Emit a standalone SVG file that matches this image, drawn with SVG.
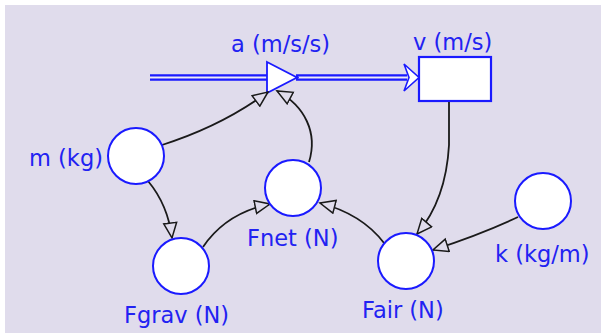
<svg xmlns="http://www.w3.org/2000/svg" width="601" height="336" viewBox="0 0 601 336">
  <style>
    .node circle { fill: #ffffff; stroke: #1a1aff; stroke-width: 2; }
    .lbl { font-family: "DejaVu Sans", Verdana, sans-serif; font-size: 22.5px; fill: #2222f2; }
    .conn path { fill: none; stroke: #1a1a1a; stroke-width: 1.8; }
    .pipe-outer { stroke: #1a1aff; stroke-width: 6.5; fill: none; }
    .pipe-inner { stroke: #eceaf6; stroke-width: 2; fill: none; }
  </style>
  <defs>
    <marker id="arr" markerUnits="userSpaceOnUse" markerWidth="18" markerHeight="16" refX="16" refY="7.5" orient="auto">
      <path d="M1,1 L16,7.5 L1,14 Z" fill="#e0dcec" stroke="#1a1a1a" stroke-width="1.5"/>
    </marker>
  </defs>
  <rect x="0" y="0" width="601" height="336" fill="#ffffff"/>
  <rect x="5" y="5" width="596" height="328" fill="#e0dcec"/>

  <g id="flow">
    <line class="pipe-outer" x1="150" y1="77.5" x2="268" y2="77.5"/>
    <line class="pipe-inner" x1="150" y1="77.5" x2="268" y2="77.5"/>
    <line class="pipe-outer" x1="296" y1="77.5" x2="407" y2="77.5"/>
    <line class="pipe-inner" x1="296" y1="77.5" x2="407" y2="77.5"/>
    <polygon points="404,64 419,77.5 404,91 409,77.5" fill="#ffffff" stroke="#1a1aff" stroke-width="1.6"/>
  </g>

  <g id="a">
    <polygon points="267,62 297,77.5 267,93" fill="#ffffff" stroke="#1a1aff" stroke-width="1.8"/>
    <circle cx="297" cy="77.5" r="1.8" fill="#1a1aff"/>
    <text class="lbl" x="231" y="52">a (m/s/s)</text>
  </g>

  <g id="v">
    <rect x="419" y="57" width="72" height="44" fill="#ffffff" stroke="#1a1aff" stroke-width="2.2"/>
    <text class="lbl" x="413" y="50">v (m/s)</text>
  </g>

  <g class="conn" id="connectors">
    <path d="M162,145 Q222,126 268,92" marker-end="url(#arr)"/>
    <path d="M309,162 C318,133 305,106 277,91" marker-end="url(#arr)"/>
    <path d="M148,181 Q168,205 172,238" marker-end="url(#arr)"/>
    <path d="M203,247 Q226,213 270,204" marker-end="url(#arr)"/>
    <path d="M384,243 Q362,214 320,203" marker-end="url(#arr)"/>
    <path d="M449,102 L449,145 Q446,200 417,234" marker-end="url(#arr)"/>
    <path d="M518,217 Q482,234 433,250" marker-end="url(#arr)"/>
  </g>

  <g id="m" class="node">
    <circle cx="136" cy="156" r="28"/>
    <text class="lbl" x="29" y="166">m (kg)</text>
  </g>
  <g id="Fgrav" class="node">
    <circle cx="181" cy="266" r="28"/>
    <text class="lbl" x="124" y="323">Fgrav (N)</text>
  </g>
  <g id="Fnet" class="node">
    <circle cx="293" cy="188" r="28"/>
    <text class="lbl" x="247" y="246">Fnet (N)</text>
  </g>
  <g id="Fair" class="node">
    <circle cx="406" cy="261" r="28"/>
    <text class="lbl" x="362" y="318">Fair (N)</text>
  </g>
  <g id="k" class="node">
    <circle cx="543" cy="201" r="28"/>
    <text class="lbl" x="495" y="262">k (kg/m)</text>
  </g>
</svg>
